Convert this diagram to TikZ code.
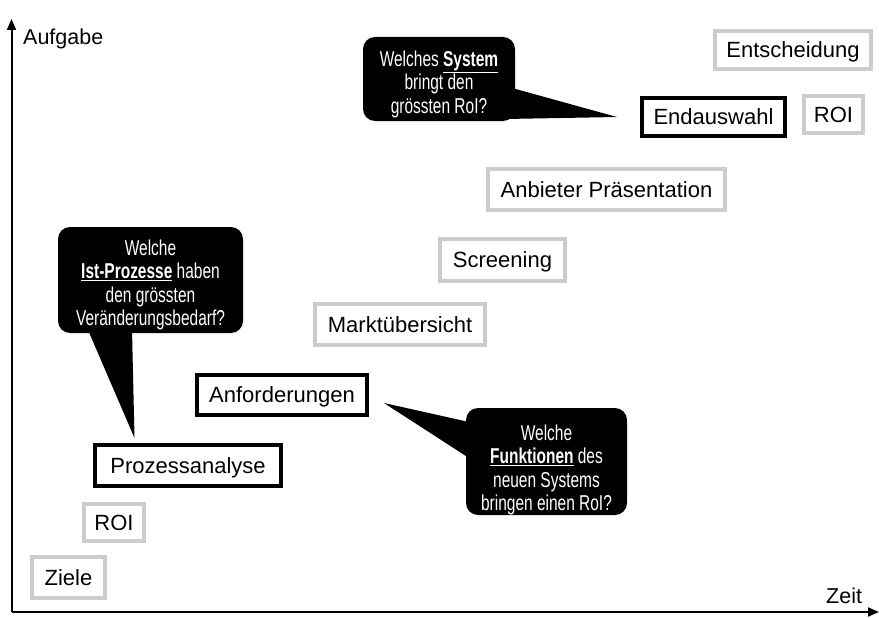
\documentclass[tikz,border=0pt]{standalone}
\usepackage{fontspec}
\setmainfont{Liberation Sans}
\newfontfamily\narrowfont[FakeStretch=0.72]{Liberation Sans}
\usetikzlibrary{arrows.meta}
\definecolor{boxgray}{RGB}{204,204,204}
\begin{document}
\begin{tikzpicture}[x=1pt,y=-1pt,
  boxbase/.style={line width=4pt, inner sep=0pt, text=black,
    font=\fontsize{22}{24}\selectfont, text height=15.8pt, text depth=0pt},
  gbox/.style={boxbase, draw=boxgray},
  bbox/.style={boxbase, draw=black},
  bubble/.style={fill=black, rounded corners=12pt, inner sep=0pt},
  bubbletext/.style={text=white, align=center, inner sep=0pt,
    font=\narrowfont\fontsize{21.5}{23.5}\selectfont},
  tail/.style={fill=black},
  axis/.style={line width=2pt, -{Triangle[length=11pt,width=9pt]}},
  axlabel/.style={font=\fontsize{21.5}{24}\selectfont, inner sep=0pt}
  ]
\useasboundingbox (0,0) rectangle (879,618);

% axes
\coordinate (O) at (11.5,612);
\coordinate (ytop) at (11.5,19);
\coordinate (xend) at (879,612);
\draw[axis] (O) -- (ytop);
\draw[axis] (O) -- (xend);
\node[axlabel, anchor=base west] (aufgabe) at (23,45) {Aufgabe};
\node[axlabel, anchor=base west] (zeit) at (826,603) {Zeit};

% boxes
\node[gbox, minimum width=156pt, minimum height=38pt] (entsch) at (793,50) {Entscheidung};
\node[bbox, minimum width=143pt, minimum height=38pt] (endaus) at (713.5,117) {Endauswahl};
\node[gbox, minimum width=59pt, minimum height=37pt] (roitop) at (833.5,114.5) {ROI};
\node[gbox, minimum width=237pt, minimum height=41pt] (anbieter) at (606.5,189.5) {Anbieter Präsentation};
\node[gbox, minimum width=125pt, minimum height=42pt] (screen) at (502.5,260) {Screening};
\node[gbox, minimum width=170pt, minimum height=41pt] (markt) at (400,324.5) {Marktübersicht};
\node[bbox, minimum width=170pt, minimum height=40pt] (anford) at (282,395) {Anforderungen};
\node[bbox, minimum width=186pt, minimum height=41pt] (prozess) at (188,465.5) {Prozessanalyse};
\node[gbox, minimum width=60pt, minimum height=37pt] (roibot) at (114,522.5) {ROI};
\node[gbox, minimum width=73pt, minimum height=41pt] (ziele) at (68.5,577.5) {Ziele};

% callout: top
\coordinate (t1a) at (512,88);
\coordinate (t1b) at (505,119);
\coordinate (t1tip) at (617,117);
\fill[tail] (t1a) -- (t1tip) -- (t1b) -- cycle;
\node[bubble, minimum width=152pt, minimum height=84pt] (c1) at (439,79) {};
\node[bubbletext] (c1text) at (439,84)
  {Welches \underline{\textbf{System}}\\bringt den\\grössten RoI?};

% callout: left
\coordinate (t2a) at (88,330);
\coordinate (t2b) at (132,330);
\coordinate (t2tip) at (134.5,438);
\fill[tail] (t2a) -- (t2tip) -- (t2b) -- cycle;
\node[bubble, minimum width=185pt, minimum height=106pt] (c2) at (150.5,280) {};
\node[bubbletext] (c2text) at (150.5,285)
  {Welche\\\underline{\textbf{Ist-Prozesse}} haben\\den grössten\\Veränderungsbedarf?};

% callout: bottom
\coordinate (t3a) at (469,422);
\coordinate (t3b) at (469,458);
\coordinate (t3tip) at (384,403);
\fill[tail] (t3a) -- (t3tip) -- (t3b) -- cycle;
\node[bubble, minimum width=161pt, minimum height=107pt] (c3) at (546.5,461.5) {};
\node[bubbletext] (c3text) at (546.5,470)
  {Welche\\\underline{\textbf{Funktionen}} des\\neuen Systems\\bringen einen RoI?};
\end{tikzpicture}
\end{document}
